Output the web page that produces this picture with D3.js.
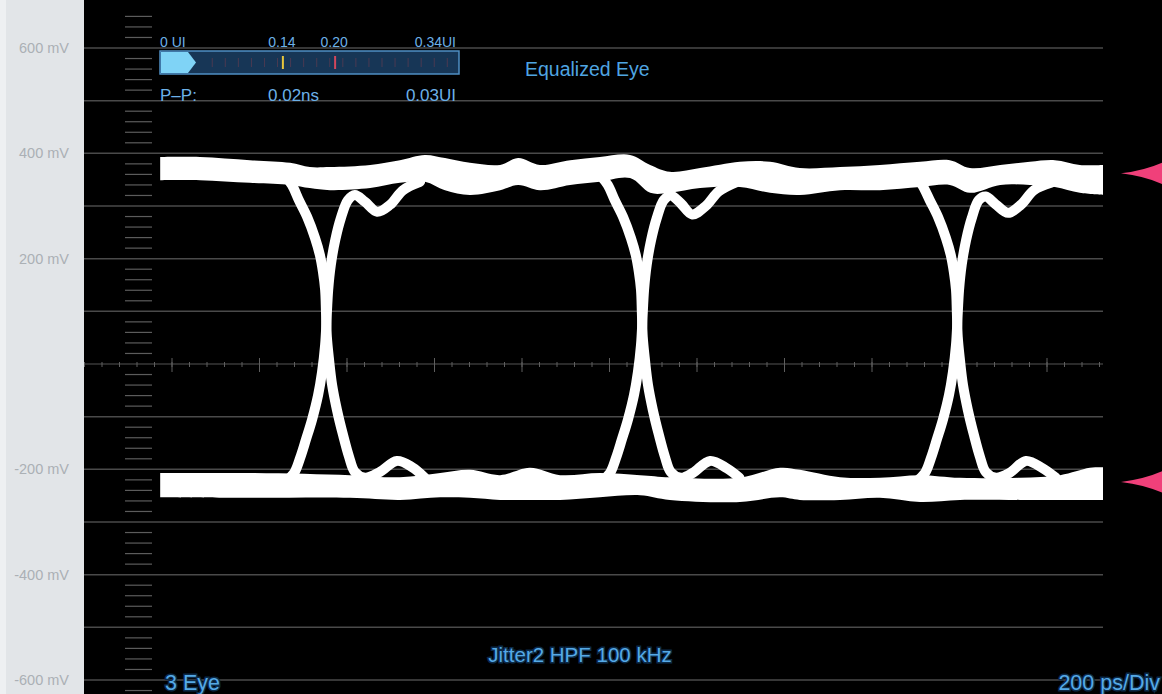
<!DOCTYPE html>
<html>
<head>
<meta charset="utf-8">
<script src="https://cdn.jsdelivr.net/npm/d3@7"></script>
<style>
html, body { margin: 0; padding: 0; background: #000; overflow: hidden; }
svg { display: block; }
text { font-family: "Liberation Sans", Arial, sans-serif; }
</style>
</head>
<body>
<svg id="eye-svg" width="1162" height="694"></svg>
<script>
// ---- data (time in ps, level in mV) ----
var yLabels = [600, 400, 200, -200, -400, -600];
var gridLevels = [600, 500, 400, 300, 200, 100, -100, -200, -300, -400, -500, -600];

// rails: [ps, upper edge mV, lower edge mV]
var topRail = [
	[-27,393,349],[64,393,349],[178,387,344],[270,382,340],[315,374,334],[361,374,330],
	[453,378,334],[521,387,344],[578,397,346],[624,391,330],[681,382,321],[750,378,330],
	[791,391,340],[841,378,330],[910,387,340],[978,393,346],[1047,397,353],[1093,378,325],
	[1138,365,325],[1207,372,334],[1298,384,336],[1367,384,325],[1435,372,321],[1527,374,330],
	[1618,378,330],[1710,384,336],[1778,387,340],[1824,372,325],[1893,378,340],[1961,384,340],
	[2018,387,336],[2075,378,325],[2128,378,321]
];
var bottomRail = [
	[-27,-207,-253],[178,-207,-254],[407,-211,-254],[521,-215,-258],[613,-207,-253],
	[681,-201,-254],[750,-211,-258],[818,-197,-258],[887,-211,-258],[978,-207,-253],
	[1070,-211,-249],[1138,-215,-258],[1298,-216,-262],[1390,-197,-253],[1435,-201,-258],
	[1527,-215,-258],[1618,-216,-254],[1710,-211,-262],[1801,-216,-258],[1938,-216,-258],
	[2030,-211,-258],[2098,-197,-258],[2128,-196,-258]
];

// transitions: [ps, mV]
var falling1 = [[258,357],[274,340],[290,311],[309,279],[327,239],[338,207],[345,175],[350,141],[352,97],[354,51],[359,8],[366,-40],[377,-87],[391,-135],[405,-177],[418,-205],[441,-216],[475,-205],[514,-184],[549,-196],[578,-216]];
var rising1  = [[258,-224],[279,-207],[293,-178],[306,-144],[320,-106],[334,-59],[343,-15],[350,36],[354,97],[357,141],[363,188],[373,235],[386,277],[402,311],[418,321],[441,308],[469,289],[498,302],[528,330],[567,346]];
var falling2 = [[980,357],[996,340],[1012,311],[1031,279],[1049,239],[1060,207],[1067,175],[1072,141],[1074,97],[1076,51],[1081,8],[1088,-40],[1099,-87],[1113,-135],[1127,-177],[1140,-205],[1163,-216],[1190,-207],[1230,-184],[1268,-198],[1297,-216]];
var rising2  = [[980,-224],[1001,-207],[1015,-178],[1028,-144],[1042,-106],[1056,-59],[1065,-15],[1072,36],[1076,97],[1079,141],[1085,188],[1095,235],[1108,277],[1124,311],[1140,320],[1163,305],[1189,284],[1220,300],[1250,328],[1289,345]];
var falling3 = [[1700,357],[1716,338],[1732,311],[1751,279],[1769,239],[1780,207],[1787,175],[1792,141],[1794,97],[1796,51],[1801,8],[1808,-40],[1819,-87],[1833,-135],[1847,-177],[1860,-205],[1883,-216],[1914,-207],[1952,-184],[1990,-198],[2020,-216]];
var rising3  = [[1700,-224],[1721,-207],[1735,-178],[1748,-144],[1762,-106],[1776,-59],[1785,-15],[1792,36],[1796,97],[1799,141],[1805,188],[1815,235],[1828,277],[1844,311],[1860,318],[1883,303],[1911,287],[1940,302],[1970,330],[2009,344]];

var markerLevels = [362, -224];

// jitter bar (UI)
var uiLabels = [{v: 0, t: "0 UI", a: "start"}, {v: 0.14, t: "0.14", a: "middle"}, {v: 0.20, t: "0.20", a: "middle"}, {v: 0.34, t: "0.34UI", a: "end"}];
var uiMarks = [{v: 0.14, c: "#e6c63c"}, {v: 0.20, c: "#d2475c"}];
var ppValues = ["0.02ns", "0.03UI"];

// ---- drawing ----
var svg = d3.select("#eye-svg");
var W = 1162, H = 694, plotL = 84, plotR = 1103;

var x = d3.scaleLinear().domain([0, 2000]).range([172, 1047]);
var y = d3.scaleLinear().domain([-600, 600]).range([680, 48]);

svg.append("rect").attr("width", W).attr("height", H).attr("fill", "#000");
svg.append("rect").attr("width", plotL).attr("height", H).attr("fill", "#e2e5e8");
svg.append("rect").attr("width", 6).attr("height", H).attr("fill", "#eef0f2");

// voltage labels
var yAxis = d3.axisLeft(y).tickValues(yLabels).tickSize(0).tickPadding(0)
	.tickFormat(function(d) { return d + " mV"; });
var ga = svg.append("g").attr("transform", "translate(69,0)").call(yAxis);
ga.select(".domain").remove();
ga.selectAll("text")
	.attr("fill", "#abb0b5")
	.style("font-size", "14.5px")
	.style("font-family", "'Liberation Sans', Arial, sans-serif");

// horizontal grid
svg.append("g").selectAll("line")
	.data(gridLevels)
	.join("line")
	.attr("x1", plotL).attr("x2", plotR)
	.attr("y1", function(d) { return y(d); })
	.attr("y2", function(d) { return y(d); })
	.attr("stroke", "#4a4a4a")
	.attr("stroke-width", 1.5);

// small level ticks on the left
svg.append("g").selectAll("line")
	.data(d3.range(-660, 661, 20).filter(function(v) { return v % 100 !== 0; }))
	.join("line")
	.attr("x1", 125).attr("x2", 152)
	.attr("y1", function(d) { return y(d); })
	.attr("y2", function(d) { return y(d); })
	.attr("stroke", "#5c5c5c")
	.attr("stroke-width", 1.2);

// centre time axis
var y0 = y(0);
svg.append("line")
	.attr("x1", plotL).attr("x2", plotR).attr("y1", y0).attr("y2", y0)
	.attr("stroke", "#555").attr("stroke-width", 1);
svg.append("g").selectAll("line")
	.data(d3.range(-200, x.invert(plotR), 40))
	.join("line")
	.attr("x1", function(d) { return x(d); })
	.attr("x2", function(d) { return x(d); })
	.attr("y1", y0 - 2).attr("y2", y0 + 3)
	.attr("stroke", "#5e5e5e").attr("stroke-width", 1);
svg.append("g").selectAll("line")
	.data(d3.range(0, 2001, 200))
	.join("line")
	.attr("x1", function(d) { return x(d); })
	.attr("x2", function(d) { return x(d); })
	.attr("y1", y0 - 6).attr("y2", y0 + 8)
	.attr("stroke", "#5e5e5e").attr("stroke-width", 1);

// eye trace
var smooth = d3.curveCatmullRom.alpha(0.5);
var railArea = d3.area()
	.x(function(d) { return x(d[0]); })
	.y0(function(d) { return y(d[2]); })
	.y1(function(d) { return y(d[1]); })
	.curve(smooth);
var edgeLine = d3.line()
	.x(function(d) { return x(d[0]); })
	.y(function(d) { return y(d[1]); })
	.curve(smooth);

var trace = svg.append("g");
trace.selectAll("path.rail")
	.data([topRail, bottomRail])
	.join("path")
	.attr("class", "rail")
	.attr("d", railArea)
	.attr("fill", "#fff");
trace.selectAll("path.edge")
	.data([falling1, rising1, falling2, rising2, falling3, rising3])
	.join("path")
	.attr("class", "edge")
	.attr("d", edgeLine)
	.attr("fill", "none")
	.attr("stroke", "#fff")
	.attr("stroke-width", 10)
	.attr("stroke-linecap", "round")
	.attr("stroke-linejoin", "round");

// level markers on the right edge
svg.append("g").selectAll("path")
	.data(markerLevels)
	.join("path")
	.attr("d", function(d) {
		var cy = y(d);
		return "M1121," + cy + " Q1146," + (cy - 3) + " 1165," + (cy - 12) +
			" L1165," + (cy + 12) + " Q1146," + (cy + 3) + " 1121," + cy + " Z";
	})
	.attr("fill", "#f0407a");

// jitter readout panel
var ui = d3.scaleLinear().domain([0, 0.34]).range([160, 456]);
var panel = svg.append("g");
panel.append("rect")
	.attr("x", 160).attr("y", 51).attr("width", 299).attr("height", 23)
	.attr("fill", "#173656").attr("stroke", "#4f8fc4").attr("stroke-width", 1.5);
panel.append("path")
	.attr("d", "M161,52 L188,52 L196,62.5 L188,73 L161,73 Z")
	.attr("fill", "#7fd3f6");
panel.selectAll("line.tk")
	.data(d3.range(0.06, 0.335, 0.015))
	.join("line")
	.attr("class", "tk")
	.attr("x1", function(d) { return ui(d); })
	.attr("x2", function(d) { return ui(d); })
	.attr("y1", 58).attr("y2", 67)
	.attr("stroke", "#4a3a52").attr("stroke-width", 1);
panel.selectAll("line.mk")
	.data(uiMarks)
	.join("line")
	.attr("class", "mk")
	.attr("x1", function(d) { return ui(d.v) + 1; })
	.attr("x2", function(d) { return ui(d.v) + 1; })
	.attr("y1", 56).attr("y2", 69)
	.attr("stroke", function(d) { return d.c; })
	.attr("stroke-width", 2);
panel.selectAll("text.ul")
	.data(uiLabels)
	.join("text")
	.attr("class", "ul")
	.attr("x", function(d) { return ui(d.v); })
	.attr("y", 47)
	.attr("text-anchor", function(d) { return d.a; })
	.attr("fill", "#6cb1e8")
	.style("font-size", "14px")
	.text(function(d) { return d.t; });
panel.append("text")
	.attr("x", 160).attr("y", 101)
	.attr("fill", "#6cb1e8").style("font-size", "17px")
	.text("P\u2013P:");
panel.append("text")
	.attr("x", 268).attr("y", 101)
	.attr("fill", "#6cb1e8").style("font-size", "17px")
	.text(ppValues[0]);
panel.append("text")
	.attr("x", 456).attr("y", 101).attr("text-anchor", "end")
	.attr("fill", "#6cb1e8").style("font-size", "17px")
	.text(ppValues[1]);

svg.append("text")
	.attr("x", 525).attr("y", 76)
	.attr("fill", "#4fa5e2").style("font-size", "19.5px")
	.text("Equalized Eye");

var bottomText = svg.append("g")
	.attr("fill", "#55a9e6")
	.attr("stroke", "#0c2a48")
	.attr("stroke-width", 3)
	.attr("paint-order", "stroke");
bottomText.append("text")
	.attr("x", 580).attr("y", 662).attr("text-anchor", "middle")
	.style("font-size", "20.5px")
	.text("Jitter2 HPF 100 kHz");
bottomText.append("text")
	.attr("x", 165).attr("y", 690)
	.style("font-size", "21.5px")
	.text("3 Eye");
bottomText.append("text")
	.attr("x", 1160).attr("y", 690).attr("text-anchor", "end")
	.style("font-size", "21.5px")
	.text("200 ps/Div");
</script>
</body>
</html>
